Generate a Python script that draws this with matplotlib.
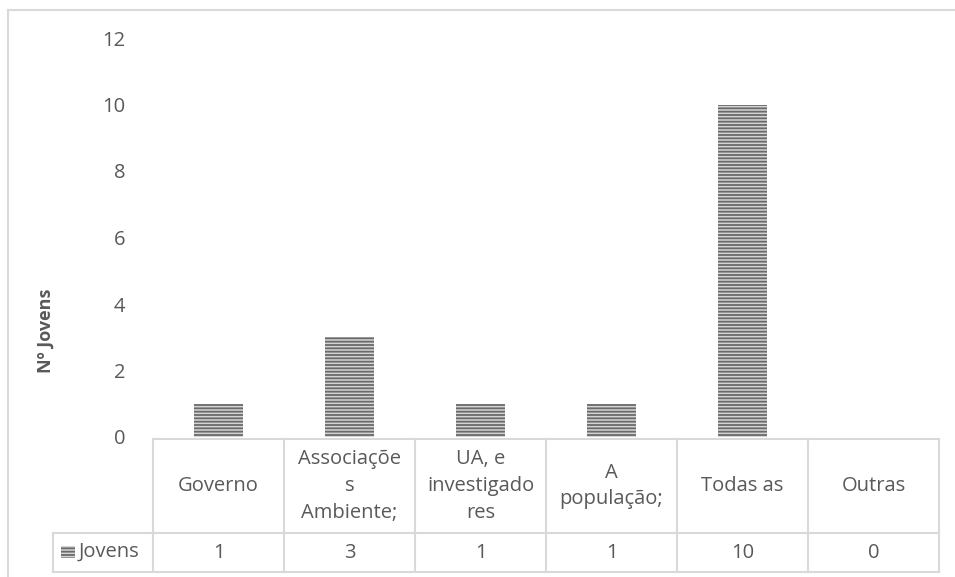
import matplotlib.pyplot as plt
import numpy as np
from matplotlib.lines import Line2D
from matplotlib.patches import Rectangle

categories = ["Governo", "Associaçõe\ns\nAmbiente;", "UA, e\ninvestigado\nres",
              "A\npopulação;", "Todas as", "Outras"]
jovens = [1, 3, 1, 1, 10, 0]
series_name = "Jovens"
y_ticks = [0, 2, 4, 6, 8, 10, 12]

W, H = 955, 577
TEXT = "#595959"
GRID = "#d9d9d9"
FS = 14.5
plt.rcParams["font.family"] = ["Open Sans", "DejaVu Sans"]
plt.rcParams["hatch.linewidth"] = 1.3

fig = plt.figure(figsize=(W / 100, H / 100), dpi=100)

# plot area in pixel coordinates
x0, x1 = 153, 939
y_top, y_zero = 38, 437
ax = fig.add_axes([x0 / W, 1 - y_zero / H, (x1 - x0) / W, (y_zero - y_top) / H])

x = np.arange(len(categories))
ax.bar(x, jovens, width=0.38, color="#d4d4d4", edgecolor="#6a6a6a",
       hatch="-----", linewidth=0)
ax.set_xlim(-0.5, len(categories) - 0.5)
ax.set_ylim(0, 12)
ax.set_yticks(y_ticks)
ax.set_yticklabels([str(t) for t in y_ticks], fontsize=FS, color=TEXT)
ax.tick_params(axis="y", length=0, pad=20)
ax.set_xticks([])
for s in ax.spines.values():
    s.set_visible(False)
ax.patch.set_visible(False)

fig.text(46 / W, 1 - 331 / H, "Nº Jovens", rotation=90, ha="center", va="center",
         fontsize=13, fontweight="bold", color=TEXT)

# data table under the plot
def ya(py):
    return (y_zero - py) / (y_zero - y_top)

tr = ax.get_xaxis_transform()
row_top, row_mid, row_bot = ya(439), ya(533), ya(572)
label_left = -0.5 - (x0 - 53) / ((x1 - x0) / len(categories))
kw = dict(color=GRID, lw=1.5, transform=tr, clip_on=False)
ax.add_line(Line2D([-0.5, len(categories) - 0.5], [row_top, row_top], **kw))
ax.add_line(Line2D([label_left, len(categories) - 0.5], [row_mid, row_mid], **kw))
ax.add_line(Line2D([label_left, len(categories) - 0.5], [row_bot, row_bot], **kw))
ax.add_line(Line2D([label_left, label_left], [row_mid, row_bot], **kw))
for i in range(len(categories) + 1):
    ax.add_line(Line2D([i - 0.5, i - 0.5], [row_top, row_bot], **kw))

for i, (cat, val) in enumerate(zip(categories, jovens)):
    ax.text(i, (row_top + row_mid) / 2, cat, transform=tr, ha="center", va="center",
            fontsize=FS, color=TEXT, linespacing=1.45)
    ax.text(i, (row_mid + row_bot) / 2, str(val), transform=tr, ha="center",
            va="center", fontsize=FS, color=TEXT)

# legend key in the row header
fig.patches.append(Rectangle((61 / W, 1 - 558 / H), 14 / W, 12 / H,
                             transform=fig.transFigure, facecolor="#d4d4d4",
                             edgecolor="#6a6a6a", hatch="-----", linewidth=0))
fig.text(79 / W, 1 - 552 / H, series_name, ha="left", va="center",
         fontsize=FS, color=TEXT)

# chart border
fig.add_artist(Line2D([8 / W, 8 / W], [0, 1 - 10 / H], color=GRID, lw=1.5,
                      transform=fig.transFigure))
fig.add_artist(Line2D([8 / W, 1], [1 - 10 / H, 1 - 10 / H], color=GRID, lw=1.5,
                      transform=fig.transFigure))

fig.savefig("out.png", dpi=100)
